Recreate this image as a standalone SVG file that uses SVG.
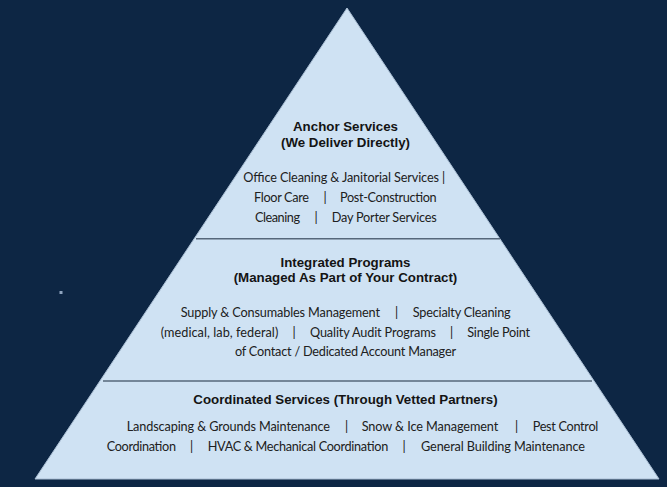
<svg xmlns="http://www.w3.org/2000/svg" width="667" height="487" viewBox="0 0 667 487">
<style>
.title{font-family:"Liberation Sans",Arial,sans-serif;font-weight:bold;font-size:13.3px;fill:#141414;text-anchor:middle}
.body{font-family:Lato,"Open Sans",sans-serif;font-size:12.7px;fill:#202020}
.pipe{font-family:Lato,"Open Sans",sans-serif;font-size:12.7px;fill:#202020;text-anchor:middle}
.divider{stroke:#56677a;stroke-width:1.4}
</style>
<rect x="0" y="0" width="667" height="487" fill="#0d2644"/>
<rect x="59.5" y="291" width="3" height="3" fill="#8fa4bf"/>
<g id="pyramid">
<polygon points="347,8 659,479 35,479" fill="#cfe2f3" stroke="#a9bdd2" stroke-width="1"/>
</g>
<g id="dividers">
<line class="divider" x1="196" y1="238.7" x2="500" y2="238.7"/>
<line class="divider" x1="103" y1="381" x2="592" y2="381"/>
</g>
<g id="tier-anchor">
<text class="title" x="345.5" y="130.5">Anchor Services</text>
<text class="title" x="345.5" y="146.5">(We Deliver Directly)</text>
<text class="body" x="243.3" y="181.5" textLength="195.7">Office Cleaning &amp; Janitorial Services</text>
<text class="pipe" x="443.5" y="181.5">|</text>
<text class="body" x="254" y="201.5" textLength="55">Floor Care</text>
<text class="pipe" x="325" y="201.5">|</text>
<text class="body" x="340" y="201.5" textLength="96.7">Post-Construction</text>
<text class="body" x="255" y="221.5" textLength="45">Cleaning</text>
<text class="pipe" x="316" y="221.5">|</text>
<text class="body" x="331.7" y="221.5" textLength="105">Day Porter Services</text>
</g>
<g id="tier-integrated">
<text class="title" x="345.5" y="266.5">Integrated Programs</text>
<text class="title" x="345.5" y="282">(Managed As Part of Your Contract)</text>
<text class="body" x="180.7" y="316.7" textLength="199.3">Supply &amp; Consumables Management</text>
<text class="pipe" x="396.7" y="316.7">|</text>
<text class="body" x="412.7" y="316.7" textLength="98">Specialty Cleaning</text>
<text class="body" x="160.7" y="336.5" textLength="117.6">(medical, lab, federal)</text>
<text class="pipe" x="294" y="336.5">|</text>
<text class="body" x="310" y="336.5" textLength="126">Quality Audit Programs</text>
<text class="pipe" x="451.7" y="336.5">|</text>
<text class="body" x="467.3" y="336.5" textLength="62.7">Single Point</text>
<text class="body" x="235" y="356.3" textLength="221">of Contact / Dedicated Account Manager</text>
</g>
<g id="tier-coordinated">
<text class="title" x="345.5" y="403.5">Coordinated Services (Through Vetted Partners)</text>
<text class="body" x="126.7" y="431" textLength="203.3">Landscaping &amp; Grounds Maintenance</text>
<text class="pipe" x="346.7" y="431">|</text>
<text class="body" x="361.7" y="431" textLength="136.6">Snow &amp; Ice Management</text>
<text class="pipe" x="516.7" y="431">|</text>
<text class="body" x="532.7" y="431" textLength="65.6">Pest Control</text>
<text class="body" x="106.7" y="450.7" textLength="69.3">Coordination</text>
<text class="pipe" x="191.7" y="450.7">|</text>
<text class="body" x="207.7" y="450.7" textLength="180.6">HVAC &amp; Mechanical Coordination</text>
<text class="pipe" x="404" y="450.7">|</text>
<text class="body" x="421" y="450.7" textLength="164">General Building Maintenance</text>
</g>
</svg>
